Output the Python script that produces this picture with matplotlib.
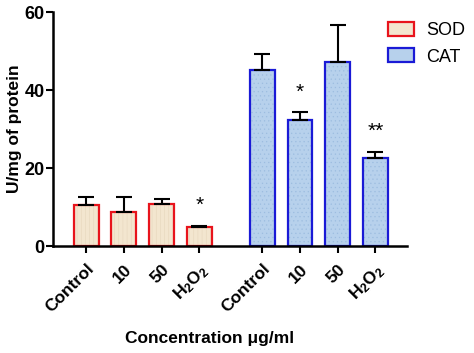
import matplotlib
matplotlib.use('Agg')
import matplotlib.pyplot as plt
import numpy as np

plt.rcParams['font.family'] = ['Liberation Sans', 'DejaVu Sans']
plt.rcParams['font.weight'] = 'bold'
plt.rcParams['mathtext.fontset'] = 'custom'
plt.rcParams['mathtext.rm'] = 'Liberation Sans:bold'
plt.rcParams['mathtext.bf'] = 'Liberation Sans:bold'
plt.rcParams['mathtext.it'] = 'Liberation Sans:bold'
plt.rcParams['hatch.linewidth'] = 0.4

groups = ['Control', '10', '50', 'H$_2$O$_2$']
sod_mean = [10.5, 8.7, 10.8, 4.9]
sod_err = [2.0, 4.0, 1.2, 0.3]
cat_mean = [45.1, 32.3, 47.2, 22.6]
cat_err = [4.1, 2.0, 9.5, 1.5]
sod_marks = ['', '', '', '*']
cat_marks = ['', '*', '', '**']

x_sod = np.arange(4)
x_cat = np.arange(4) + 4.67
width = 0.66

fig = plt.figure(figsize=(4.74, 3.53), dpi=100)
ax = fig.add_axes([0.112, 0.303, 0.747, 0.663])

ax.bar(x_sod, sod_mean, width, color='#f3e6cf', hatch='||||', edgecolor='#e6d6bc', lw=0)
ax.bar(x_sod, sod_mean, width, facecolor='none', edgecolor='#e8141c', lw=1.6, label='SOD')
ax.bar(x_cat, cat_mean, width, color='#b7d1ec', hatch='....', edgecolor='#9dbde0', lw=0)
ax.bar(x_cat, cat_mean, width, facecolor='none', edgecolor='#1a1ad6', lw=1.6, label='CAT')

for xs, m, e in [(x_sod, sod_mean, sod_err), (x_cat, cat_mean, cat_err)]:
    ax.errorbar(xs, m, yerr=[np.zeros(4), e], fmt='none', ecolor='black',
                elinewidth=1.5, capsize=6, capthick=1.5)

for xs, m, e, marks in [(x_sod, sod_mean, sod_err, sod_marks), (x_cat, cat_mean, cat_err, cat_marks)]:
    for xi, mi, ei, s in zip(xs, m, e, marks):
        if s:
            ax.text(xi, mi + ei + 5.2, s, ha='center', va='center', fontsize=15, fontweight='normal')

ax.set_xlim(-0.875, 8.51)
ax.set_ylim(0, 60)
ax.set_yticks([0, 20, 40, 60])
ax.set_xticks(list(x_sod) + list(x_cat))
ax.set_xticklabels(groups + groups, rotation=45, ha='right', rotation_mode='anchor', fontsize=12.5)
ax.tick_params(axis='x', width=1.5, length=5, pad=6)
ax.tick_params(axis='y', width=1.5, length=5, pad=1, labelsize=13)
for sp in ['top', 'right']:
    ax.spines[sp].set_visible(False)
for sp in ['left', 'bottom']:
    ax.spines[sp].set_linewidth(1.8)

ax.set_ylabel('U/mg of protein', fontsize=12.5, fontweight='bold', labelpad=2)
fig.text(0.443, 0.04, 'Concentration \u03bcg/ml', ha='center', va='center', fontsize=12.5, fontweight='bold')

handles = [plt.Rectangle((0, 0), 1, 1, facecolor='#f3e6cf', edgecolor='#e8141c', lw=1.6),
           plt.Rectangle((0, 0), 1, 1, facecolor='#b7d1ec', edgecolor='#1a1ad6', lw=1.6)]
fig.legend(handles, ['SOD', 'CAT'], loc='upper left', bbox_to_anchor=(0.785, 0.984),
           frameon=False, handlelength=1.4, handleheight=0.8,
           labelspacing=0.52, handletextpad=0.7, prop={'weight': 'normal', 'size': 13})

fig.savefig('out.png', dpi=100)
